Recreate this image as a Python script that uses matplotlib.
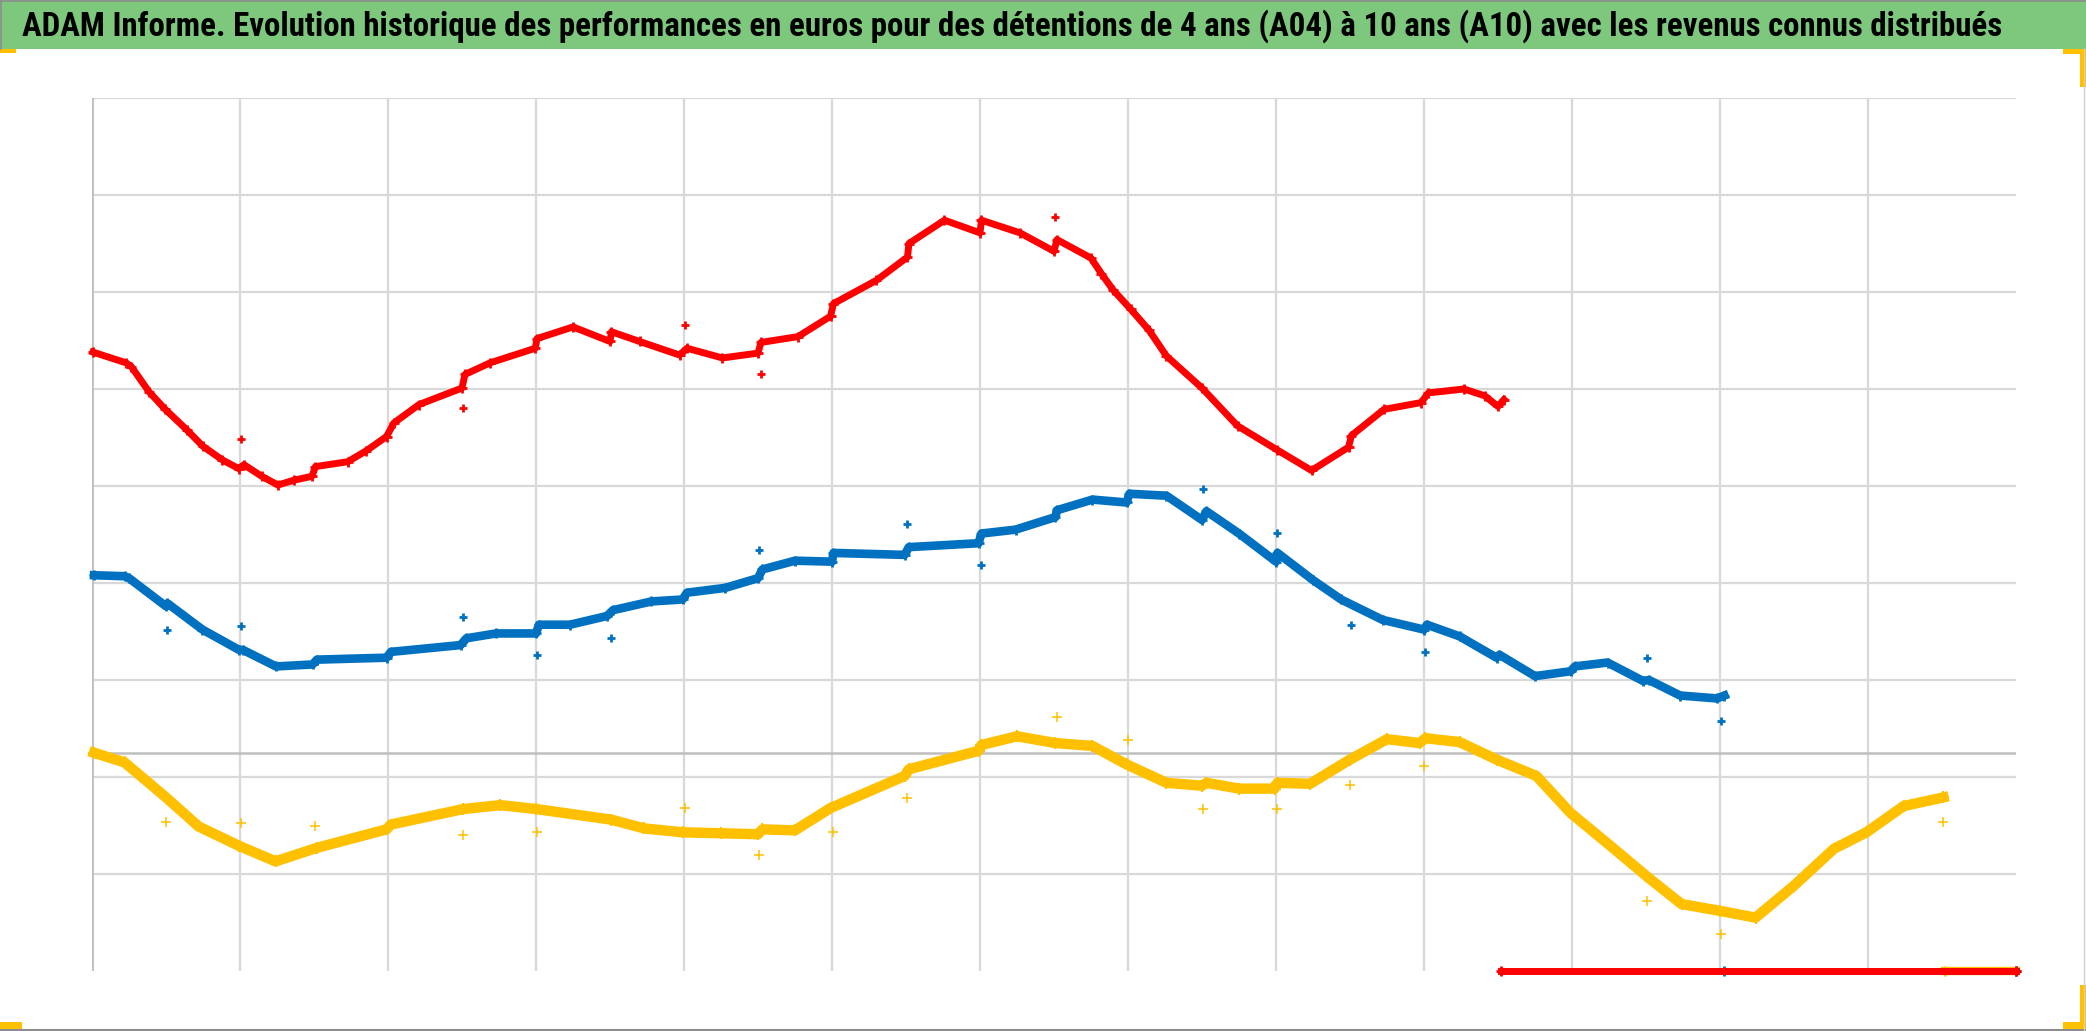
import matplotlib
matplotlib.use('Agg')
import matplotlib.pyplot as plt
from matplotlib import font_manager
from matplotlib.patches import Rectangle

title = ("ADAM Informe. Evolution historique des performances en euros pour des "
         "détentions de 4 ans (A04) à 10 ans (A10) avec les revenus connus distribués")

# x in grid cells (0..13), y in grid cells (0..9); no axis labels on the chart
red_x = [0.007, 0.23, 0.266, 0.386, 0.495, 0.64, 0.749, 0.88, 0.99, 1.027, 1.147, 1.256,
         1.365, 1.486, 1.51, 1.727, 1.85, 1.99, 2.04, 2.21, 2.50, 2.52, 2.69, 2.995, 3.007,
         3.25, 3.50, 3.51, 3.70, 3.97, 4.02, 4.26, 4.50, 4.52, 4.77, 4.99, 5.01, 5.30,
         5.51, 5.52, 5.76, 6.00, 6.01, 6.27, 6.50, 6.52, 6.75, 6.82, 6.90, 7.02, 7.14,
         7.26, 7.50, 7.74, 8.01, 8.24, 8.49, 8.51, 8.73, 8.98, 9.03, 9.27, 9.41, 9.50,
         9.54]
red_y = [6.38, 6.27, 6.23, 5.97, 5.79, 5.58, 5.41, 5.27, 5.18, 5.22, 5.10, 5.01,
         5.06, 5.10, 5.20, 5.25, 5.36, 5.51, 5.65, 5.84, 6.01, 6.15, 6.27, 6.42, 6.52,
         6.64, 6.49, 6.59, 6.49, 6.35, 6.42, 6.32, 6.37, 6.48, 6.54, 6.75, 6.88, 7.12,
         7.36, 7.50, 7.74, 7.61, 7.74, 7.61, 7.42, 7.54, 7.35, 7.19, 7.02, 6.82, 6.61,
         6.34, 6.01, 5.62, 5.37, 5.16, 5.40, 5.52, 5.79, 5.86, 5.96, 6.00, 5.93, 5.82,
         5.89]
red_out_x = [1.005, 2.507, 4.01, 4.52, 6.51]
red_out_y = [5.48, 5.80, 6.66, 6.15, 7.77]

blue_x = [0.014, 0.22, 0.25, 0.50, 0.51, 0.746, 0.994, 1.02, 1.243, 1.49, 1.52, 1.99,
          2.02, 2.49, 2.53, 2.73, 3.00, 3.02, 3.23, 3.48, 3.52, 3.78, 3.99, 4.02, 4.28,
          4.50, 4.53, 4.75, 5.00, 5.01, 5.49, 5.52, 5.99, 6.01, 6.24, 6.51, 6.52, 6.76,
          6.99, 7.01, 7.26, 7.50, 7.53, 7.75, 8.00, 8.01, 8.25, 8.44, 8.72, 9.00, 9.02,
          9.24, 9.49, 9.51, 9.75, 9.99, 10.02, 10.24, 10.48, 10.52, 10.73, 10.98, 11.03]
blue_y = [4.08, 4.07, 4.05, 3.76, 3.79, 3.52, 3.31, 3.31, 3.14, 3.16, 3.21, 3.23,
          3.29, 3.36, 3.43, 3.48, 3.48, 3.57, 3.57, 3.66, 3.72, 3.81, 3.83, 3.90, 3.95,
          4.05, 4.14, 4.23, 4.22, 4.31, 4.29, 4.37, 4.41, 4.51, 4.55, 4.68, 4.75, 4.86,
          4.83, 4.92, 4.90, 4.65, 4.74, 4.51, 4.22, 4.31, 4.03, 3.83, 3.62, 3.52, 3.57,
          3.45, 3.23, 3.26, 3.04, 3.09, 3.14, 3.18, 2.99, 3.00, 2.84, 2.81, 2.84]
blue_out_x = [0.505, 1.01, 2.51, 3.01, 3.51, 4.51, 5.51, 6.01, 7.51, 8.01, 8.51, 9.01,
              10.51, 11.01]
blue_out_y = [3.52, 3.56, 3.65, 3.26, 3.43, 4.34, 4.61, 4.19, 4.97, 4.52, 3.57, 3.29,
              3.23, 2.58]

yellow_x = [0.014, 0.22, 0.50, 0.72, 0.994, 1.24, 1.52, 1.99, 2.02, 2.51, 2.76, 3.00,
            3.51, 3.73, 3.99, 4.25, 4.50, 4.53, 4.75, 4.99, 5.49, 5.52, 5.99, 6.01, 6.25,
            6.51, 6.76, 6.99, 7.26, 7.50, 7.53, 7.75, 7.99, 8.01, 8.23, 8.50, 8.75, 8.97,
            9.01, 9.24, 9.49, 9.76, 9.99, 10.26, 10.51, 10.74, 11.00, 11.24, 11.50, 11.77,
            11.99, 12.24, 12.51]
yellow_y = [2.25, 2.15, 1.79, 1.49, 1.29, 1.13, 1.27, 1.46, 1.51, 1.67, 1.71, 1.67,
            1.56, 1.47, 1.43, 1.42, 1.41, 1.46, 1.45, 1.68, 2.01, 2.08, 2.27, 2.33, 2.42,
            2.35, 2.32, 2.13, 1.94, 1.91, 1.94, 1.88, 1.88, 1.94, 1.93, 2.18, 2.39, 2.35,
            2.40, 2.36, 2.18, 2.01, 1.63, 1.29, 0.97, 0.69, 0.62, 0.55, 0.88, 1.26,
            1.43, 1.70, 1.79]
yellow_out_x = [0.50, 1.01, 1.51, 2.51, 3.01, 4.01, 4.51, 5.01, 5.51, 6.52, 7.00, 7.51,
                8.01, 8.50, 9.00, 10.51, 11.01, 12.51]
yellow_out_y = [1.54, 1.53, 1.49, 1.40, 1.43, 1.68, 1.20, 1.43, 1.78, 2.62, 2.38, 1.67,
                1.67, 1.92, 2.11, 0.72, 0.38, 1.54]

# values recorded as 0 once each series has no more data
red_zero_x = [9.52, 13.0]
blue_zero_x = [11.03, 13.0]
yellow_zero_x = [12.52, 13.0]

RED = '#FF0000'
BLUE = '#0070C0'
YELLOW = '#FFC000'
W, H = 2086, 1031

fig = plt.figure(figsize=(W / 100, H / 100), dpi=100)

# background layer in pixel coords: title bar, border, selection handles
bg = fig.add_axes([0, 0, 1, 1], zorder=0)
bg.set_xlim(0, W)
bg.set_ylim(H, 0)
bg.axis('off')
bg.add_patch(Rectangle((0, 0), W, 49, color='#7DC87D', lw=0))
bg.plot([0, W], [1, 1], color='#8C8C8C', lw=1.2)
bg.plot([1, 1], [0, 49], color='#8C8C8C', lw=1.2)
bg.plot([0, W], [1029.5, 1029.5], color='#8C8C8C', lw=1.5)
bg.plot([2083.5, 2083.5], [49, H], color='#D0D0D0', lw=1.0)
for x0, y0, w, h in [(0, 49, 16, 4), (2063, 49, 23, 5), (2080, 49, 6, 38),
                     (0, 1022, 22, 8), (2063, 1022, 23, 9), (2080, 985, 6, 46)]:
    bg.add_patch(Rectangle((x0, y0), w, h, color=YELLOW, lw=0))

# pick a narrow bold face for the title, then fit it to the bar width
avail = {f.name for f in font_manager.fontManager.ttflist}
family = 'DejaVu Sans'
for cand in ['Liberation Sans Narrow', 'DejaVu Sans Condensed', 'Roboto Condensed',
             'Open Sans Condensed', 'Liberation Sans']:
    if cand in avail:
        family = cand
        break
t = bg.text(22, 26, title, fontsize=24, fontweight='bold', family=family,
            color='black', va='center', ha='left')
fig.canvas.draw()
bb = t.get_window_extent(renderer=fig.canvas.get_renderer())
t.set_fontsize(24 * 1990 / bb.width)

ax = fig.add_axes([92 / W, (H - 971) / H, 1924 / W, 873 / H], zorder=1)
ax.set_xlim(0, 13)
ax.set_ylim(0, 9)
ax.set_xticks(range(0, 13))
ax.set_yticks(range(1, 10))
ax.grid(True, color='#D9D9D9', lw=1.6)
ax.tick_params(length=0, labelbottom=False, labelleft=False)
for s in ax.spines.values():
    s.set_visible(False)
ax.patch.set_alpha(0)
ax.axvline(0, color='#BFBFBF', lw=2)
ax.axhline(2.25, color='#BFBFBF', lw=1.8)

# main bands
ax.plot(yellow_x, yellow_y, color=YELLOW, lw=7.5, marker='+', ms=8, mew=1.5,
        solid_joinstyle='round', clip_on=False, zorder=3)
ax.plot(blue_x, blue_y, color=BLUE, lw=6.2, marker='+', ms=7.5, mew=2,
        solid_joinstyle='round', clip_on=False, zorder=4)
ax.plot(red_x, red_y, color=RED, lw=5, marker='+', ms=6.5, mew=2,
        solid_joinstyle='round', clip_on=False, zorder=5)

# isolated points
ax.plot(yellow_out_x, yellow_out_y, ls='none', marker='+', ms=7, mew=1.1,
        color=YELLOW, zorder=3)
ax.plot(blue_out_x, blue_out_y, ls='none', marker='+', ms=6, mew=2, color=BLUE, zorder=4)
ax.plot(red_out_x, red_out_y, ls='none', marker='+', ms=6, mew=2, color=RED, zorder=5)

# zero runs along the bottom
ax.plot(yellow_zero_x, [0, 0], color=YELLOW, lw=6, marker='+', ms=7, mew=2,
        clip_on=False, zorder=3)
ax.plot(blue_zero_x, [0, 0], color=BLUE, lw=5, marker='+', ms=7, mew=2,
        clip_on=False, zorder=4)
ax.plot(red_zero_x, [0, 0], color=RED, lw=5, marker='+', ms=7, mew=2,
        clip_on=False, zorder=5)

fig.savefig('out.png', dpi=100)
